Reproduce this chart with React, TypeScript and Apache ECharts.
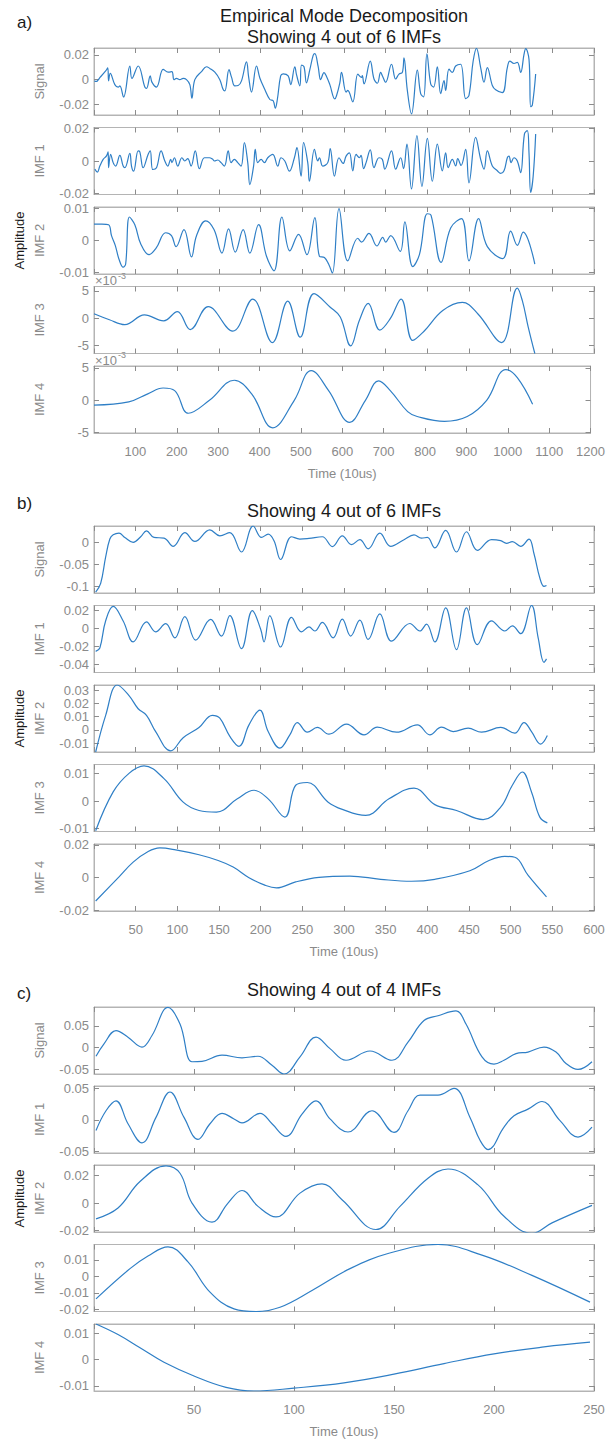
import React, { useEffect, useRef } from "react";
import * as echarts from "echarts";

type Pt = [number, number];

// ---------------- Panel a) ----------------
const aSignal: Pt[] = [
  [1, -0.001], [5, -0.0015], [15, 0.002], [28, 0.007], [33, 0.0095], [35, -0.001], [39, 0.005], [50, -0.004],
  [58, -0.006], [62, -0.005], [71, -0.014], [86, 0.011], [91, 0.001], [106, 0.011], [122, -0.006], [126, -0.007],
  [135, 0.003], [139, -0.002], [150, -0.006], [166, 0.0083], [178, 0.006], [187, 0.0065], [192, 0], [198, 0.001],
  [206, 0], [214, 0.001], [222, 0], [230, -0.004], [235, -0.015], [242, 0], [258, 0.0065], [270, 0.0104],
  [278, 0.009], [290, 0.006], [302, 0], [310, -0.008], [314, -0.009], [324, 0.008], [330, 0.002], [338, -0.005],
  [346, -0.0047], [354, -0.001], [366, 0.0143], [371, 0.0025], [378, -0.01], [390, 0.011], [398, 0.0013],
  [410, -0.008], [422, -0.016], [430, -0.017], [435, -0.023], [440, -0.016], [448, 0.003], [454, 0.0047],
  [466, 0.003], [472, -0.004], [482, 0.0104], [486, 0.004], [494, -0.005], [498, 0.0117], [504, 0.0104],
  [510, -0.0026], [518, 0.008], [526, 0.0195], [530, 0.021], [538, 0.0104], [544, 0], [552, 0.0057],
  [558, 0.0026], [566, -0.004], [578, -0.0155], [582, -0.013], [590, -0.0026], [594, 0.0058], [605, -0.01],
  [609, -0.0087], [621, -0.0179], [633, 0.0045], [639, 0.0024], [642, 0.0018], [644, 0.0032], [648, -0.0034],
  [663, 0.015], [672, 0.0005], [680, -0.0029], [688, 0.0058], [692, 0.0032], [700, -0.0021], [714, 0.0124],
  [724, 0.0005], [732, 0.0045], [740, 0.0058], [744, 0.0176], [752, -0.0087], [762, -0.0276], [776, 0.0076],
  [784, -0.0113], [791, -0.0139], [799, 0.0208], [808, -0.0034], [815, -0.006], [824, 0.0103], [832, -0.0113],
  [840, -0.0008], [844, -0.0087], [852, 0.0084], [860, 0.0058], [868, 0.011], [880, 0.0124], [892, -0.0153],
  [900, -0.0126], [910, 0.015], [918, 0.0252], [928, 0.0097], [936, -0.0021], [944, 0.0097], [956, -0.0047],
  [964, -0.0082], [980, -0.0105], [992, 0.0097], [998, 0.015], [1008, 0.013], [1016, 0.0139], [1024, 0.0058],
  [1032, 0.0203], [1036, 0.025], [1044, 0.0163], [1048, -0.0218], [1052, -0.0205], [1060, 0.0045],
];
const aImf1: Pt[] = [
  [2, -0.005], [8, -0.0068], [14, -0.0031], [22, 0.001], [30, 0.0031], [34, 0.0056], [35, -0.004], [40, 0.0041],
  [46, -0.001], [52, -0.0031], [62, 0.0035], [70, -0.0031], [74, -0.0041], [86, 0.0047], [90, -0.0031],
  [95, -0.0062], [106, 0.0062], [110, 0.0056], [118, -0.0041], [130, 0.0041], [135, 0.0062], [141, -0.0052],
  [150, -0.0041], [161, 0.0062], [170, 0], [177, -0.0031], [184, 0.001], [187, -0.001], [193, 0.002],
  [201, -0.0031], [211, 0.002], [218, 0], [225, 0.0014], [233, -0.0031], [243, 0.0062], [253, -0.0047],
  [265, 0.002], [277, 0.002], [285, 0.001], [289, 0], [297, 0.0006], [305, -0.001], [313, -0.0031], [322, 0.0062],
  [329, -0.001], [337, 0.001], [345, -0.001], [353, -0.0031], [361, 0.0113], [369, -0.001], [374, -0.0144],
  [383, -0.0031], [387, 0.0072], [393, -0.001], [401, 0.001], [409, -0.001], [417, 0.002], [429, 0.0041],
  [441, -0.0031], [449, 0.002], [458, 0], [469, -0.0062], [481, 0.002], [487, 0.0082], [497, -0.0093],
  [503, 0.0113], [513, -0.001], [517, -0.0124], [529, 0.0072], [537, 0], [541, 0.002], [549, -0.0031],
  [561, -0.001], [567, 0.0076], [577, -0.0093], [588, 0.002], [598, -0.0015], [605, 0.003], [613, 0.005],
  [621, -0.006], [629, 0.004], [637, 0.002], [641, 0.0035], [647, -0.0047], [653, -0.001], [663, 0.0068],
  [672, -0.004], [684, 0.002], [692, 0.001], [698, -0.005], [714, 0.0062], [724, -0.005], [736, 0.002],
  [743, -0.0047], [751, 0.0103], [762, -0.0171], [775, 0.0155], [787, -0.0155], [800, 0.0138], [812, -0.0124],
  [824, 0.0103], [836, -0.006], [844, 0.005], [850, -0.004], [860, 0.001], [868, -0.003], [873, 0.0014],
  [881, -0.0027], [892, 0.0072], [900, -0.0134], [916, 0.0144], [928, 0.001], [936, -0.005], [944, 0.0062],
  [956, -0.003], [968, -0.006], [976, -0.0076], [984, -0.006], [992, 0.002], [996, 0.003], [1001, -0.001],
  [1008, 0.002], [1016, 0], [1024, -0.0072], [1033, 0.0165], [1040, 0.0186], [1044, 0.005], [1048, -0.0192],
  [1054, -0.0093], [1060, 0.0165],
];
const aImf2: Pt[] = [
  [0, 0.0051], [19, 0.0051], [35, 0.0049], [42, 0.0015], [51, -0.0015], [60, -0.0058], [70, -0.0083],
  [76, -0.0073], [85, 0.0073], [98, 0.0049], [112, -0.001], [132, -0.0044], [149, -0.0024], [172, 0.0024],
  [186, 0.0015], [197, -0.0019], [216, 0.0034], [234, -0.0051], [246, 0.0015], [268, 0.0061], [288, 0.0034],
  [307, -0.0039], [323, 0.0036], [339, -0.0036], [358, 0.0034], [374, -0.0039], [395, 0.0049], [414, -0.0049],
  [432, -0.0094], [451, 0.0073], [470, -0.0032], [491, 0.0019], [511, -0.0044], [530, 0.0071], [541, -0.0049],
  [553, -0.0053], [563, -0.0073], [572, -0.0101], [588, 0.0099], [609, -0.0063], [633, 0.0007], [642, -0.0005],
  [660, 0.0022], [679, -0.0017], [693, 0.001], [700, -0.0005], [712, 0.0015], [735, -0.0034], [746, 0.0058],
  [765, -0.0081], [781, -0.0044], [800, 0.0083], [809, 0.0078], [833, -0.0068], [856, 0.0039], [882, 0.0068],
  [900, -0.0063], [923, 0.0068], [944, -0.0019], [981, -0.0056], [1000, 0.0029], [1016, -0.0015],
  [1030, 0.0026], [1058, -0.0073],
];
const aImf3: Pt[] = [
  [0, 0.8], [37, -0.3], [74, -1.2], [121, 0.6], [167, -0.5], [200, 1.2], [231, -2.1], [274, 2.1], [333, -2.4],
  [381, 3.5], [428, -4.5], [465, 3.1], [495, -3.5], [528, 4.5], [567, 2.0], [591, 0.2], [616, -5.1], [637, -0.4],
  [658, 2.7], [686, -2.2], [711, -0.1], [737, 3.5], [765, -4.1], [791, -2.5], [837, 1.4], [884, 2.9], [921, 0.8],
  [978, -4.5], [1016, 5.5], [1028, 3.2], [1042, -1.6], [1058, -6.5],
];
const aImf4: Pt[] = [
  [0, -0.75], [84, -0.25], [130, 1.0], [167, 1.9], [195, 1.5], [228, -2.0], [279, 0], [339, 3.1], [381, 1.0],
  [432, -4.25], [484, 0], [525, 4.6], [567, 1.5], [618, -3.4], [656, 0], [688, 3.0], [716, 1.5], [758, -1.75],
  [781, -2.5], [847, -3.25], [902, -2.5], [949, 0], [995, 4.75], [1023, 3.5], [1060, -0.6],
];
const aSignalTicks = [-0.02, 0, 0.02];
const aImf1Ticks = [-0.02, 0, 0.02];
const aImf2Ticks = [-0.01, 0, 0.01];
const aImf3Ticks = [-5, 0, 5];
const aImf4Ticks = [-5, 0, 5];

// ---------------- Panel b) ----------------
const bSignal: Pt[] = [
  [2, -0.113], [8, -0.093], [14, -0.033], [19, 0.0074], [23, 0.017], [30, 0.021], [37, 0.011], [47, 0],
  [56, 0.0126], [63, 0.026], [72, 0.011], [84, 0.0096], [95, -0.009], [109, 0.022], [121, 0.002], [139, 0.028],
  [151, 0.0148], [163, 0.022], [177, -0.022], [191, 0.037], [201, 0.011], [209, 0.0185], [216, 0.0037],
  [224, -0.039], [237, 0.0126], [247, 0.0074], [258, 0.0089], [274, 0.0126], [286, -0.0096], [298, 0.0148],
  [309, -0.0052], [319, 0.006], [329, -0.0148], [343, 0.021], [356, -0.009], [372, 0.006], [384, 0.017],
  [393, 0.0096], [400, 0.011], [409, -0.0126], [422, 0.027], [435, -0.022], [447, 0.024], [460, -0.0185],
  [477, 0.006], [488, 0.0037], [495, -0.0022], [502, 0.0015], [512, -0.009], [522, 0.0074], [528, -0.026],
  [535, -0.081], [540, -0.1], [543, -0.098],
];
const bImf1: Pt[] = [
  [2, -0.0254], [7, -0.0217], [14, 0.0082], [23, 0.024], [35, 0.008], [47, -0.015], [63, 0.007], [74, -0.004],
  [86, 0.005], [97, -0.0105], [109, 0.0127], [122, -0.013], [140, 0.0097], [153, -0.0086], [163, 0.0138],
  [177, -0.0224], [190, 0.0194], [200, -0.001], [204, -0.015], [211, 0.0138], [224, -0.0206], [237, 0.012],
  [249, -0.004], [258, 0.0015], [265, -0.003], [274, 0.0064], [287, -0.0105], [298, 0.0101], [308, -0.0086],
  [319, 0.009], [329, -0.0123], [343, 0.0157], [357, -0.0142], [379, 0.0052], [391, -0.003], [399, 0.0045],
  [409, -0.015], [422, 0.0224], [435, -0.0235], [447, 0.0224], [460, -0.018], [477, 0.0082], [493, -0.003],
  [502, 0.0026], [512, -0.006], [525, 0.025], [533, -0.0105], [540, -0.0374], [543, -0.0336],
];
const bImf2: Pt[] = [
  [2, -0.0168], [14, 0.011], [28, 0.034], [42, 0.026], [53, 0.016], [63, 0.011], [74, -0.0013], [92, -0.016],
  [107, -0.006], [126, 0.0018], [142, 0.011], [151, 0.0088], [163, -0.005], [174, -0.0125], [186, 0.0038],
  [199, 0.015], [209, -0.0013], [223, -0.0138], [235, -0.0038], [244, 0.0055], [256, -0.0018], [268, 0.0018],
  [282, -0.0033], [303, 0.0043], [324, -0.0038], [340, 0.002], [363, -0.0018], [388, 0.0038], [403, -0.0038],
  [417, 0.002], [431, -0.0013], [449, 0.0013], [465, -0.0018], [488, 0.0018], [505, -0.0025], [516, 0.0055],
  [525, -0.0013], [536, -0.0108], [544, -0.0043],
];
const bImf3: Pt[] = [
  [2, -0.0107], [23, 0.0033], [42, 0.01], [60, 0.0127], [84, 0.0081], [107, -0.0004], [126, -0.0034],
  [147, -0.004], [172, 0.0008], [192, 0.0039], [209, 0.0008], [229, -0.0058], [242, 0.0057], [256, 0.0067],
  [281, -0.0004], [298, -0.003], [326, -0.0052], [354, 0.0008], [384, 0.0047], [409, -0.0013], [435, -0.0034],
  [467, -0.0067], [488, -0.0022], [502, 0.0057], [514, 0.0105], [525, 0.0033], [535, -0.0058], [544, -0.0079],
];
const bImf4: Pt[] = [
  [2, -0.0143], [28, -0.0006], [47, 0.0095], [65, 0.016], [79, 0.0182], [98, 0.017], [126, 0.014], [149, 0.0105],
  [167, 0.0065], [186, 0], [205, -0.0046], [219, -0.0063], [242, -0.0026], [270, 0.0002], [307, 0.001],
  [344, -0.001], [381, -0.0022], [409, -0.001], [451, 0.0042], [474, 0.0105], [493, 0.013], [505, 0.0125],
  [521, 0.0014], [543, -0.0117],
];
const bSignalTicks = [-0.1, -0.05, 0];
const bImf1Ticks = [-0.04, -0.02, 0, 0.02];
const bImf2Ticks = [-0.01, 0, 0.01, 0.02, 0.03];
const bImf3Ticks = [-0.01, 0, 0.01];
const bImf4Ticks = [-0.02, 0, 0.02];

// ---------------- Panel c) ----------------
const cSignal: Pt[] = [
  [1, -0.0195], [5, 0.009], [11, 0.039], [17, 0.024], [24, 0.0015], [29, 0.028], [37, 0.092], [43, 0.054],
  [49, -0.032], [54, -0.031], [64, -0.017], [74, -0.023], [82, -0.0195], [89, -0.04], [95, -0.06], [103, -0.021],
  [111, 0.024], [118, -0.002], [126, -0.0286], [138, -0.0075], [149, -0.0286], [157, 0.0128], [165, 0.062],
  [172, 0.073], [181, 0.084], [186, 0.054], [194, -0.021], [200, -0.0376], [205, -0.0286], [211, -0.0135],
  [217, -0.01], [225, 0.0015], [231, -0.01], [236, -0.036], [242, -0.0496], [249, -0.032],
];
const cImf1: Pt[] = [
  [1, -0.0166], [6, 0.0145], [11, 0.03], [17, -0.006], [24, -0.036], [31, 0.004], [38, 0.044], [45, 0.004],
  [52, -0.0306], [58, -0.006], [64, 0.0104], [70, 0.0016], [74, -0.0047], [83, 0.0104], [89, -0.006],
  [96, -0.026], [104, 0.009], [111, 0.03], [118, 0.0016], [127, -0.019], [139, 0.0145], [150, -0.0197],
  [157, 0.0145], [163, 0.039], [172, 0.039], [180, 0.0497], [188, 0.004], [193, -0.032], [197, -0.0466],
  [205, -0.0114], [210, 0.0067], [217, 0.017], [224, 0.029], [233, -0.001], [242, -0.027], [249, -0.0114],
];
const cImf2: Pt[] = [
  [1, -0.0115], [12, -0.0036], [23, 0.0156], [36, 0.027], [43, 0.0216], [49, 0], [59, -0.0139], [67, 0],
  [74, 0.0091], [82, -0.0024], [91, -0.0101], [103, 0.0072], [114, 0.0139], [124, 0.0024], [141, -0.0192],
  [153, -0.0024], [167, 0.018], [177, 0.0247], [192, 0.0132], [205, -0.0096], [219, -0.022], [229, -0.0144],
  [249, -0.0017],
];
const cImf3: Pt[] = [
  [1, -0.0137], [18, 0.0047], [27, 0.0124], [37, 0.018], [47, 0.0088], [58, -0.0096], [70, -0.0198],
  [81, -0.0214], [93, -0.0188], [109, -0.0086], [128, 0.0047], [147, 0.0139], [172, 0.0194], [194, 0.0129],
  [219, 0.0006], [248, -0.0157],
];
const cImf4: Pt[] = [
  [1, 0.0135], [12, 0.0095], [23, 0.0045], [35, -0.001], [50, -0.0062], [66, -0.0105], [80, -0.0119],
  [100, -0.0108], [125, -0.0088], [150, -0.0055], [175, -0.0015], [200, 0.0022], [225, 0.0048], [248, 0.0066],
];
const cSignalTicks = [-0.05, 0, 0.05];
const cImf1Ticks = [-0.05, 0, 0.05];
const cImf2Ticks = [-0.02, 0, 0.02];
const cImf3Ticks = [-0.02, -0.01, 0, 0.01];
const cImf4Ticks = [-0.01, 0, 0.01];

// ---------------- layout / style ----------------
const FONT = '"Liberation Sans", Arial, Helvetica, sans-serif';
const AX = "#b4b4b4";
const TICK = "#8c8c8c";
const TXT = "#8a8a8a";
const LINE = "#2f7fc6";
const GRID_LEFT = 94;
const GRID_W = 500;
const GRID_H = 67;

interface Sub { name: string; data: Pt[]; min: number; max: number; ticks: number[]; exp?: boolean }
interface Panel { tops: number[]; xMax: number; xStep: number; subs: Sub[] }

const panels: Panel[] = [
  {
    tops: [48, 127.5, 207, 286.5, 366], xMax: 1200, xStep: 100,
    subs: [
      { name: "Signal", data: aSignal, min: -0.0285, max: 0.0255, ticks: aSignalTicks },
      { name: "IMF 1", data: aImf1, min: -0.0205, max: 0.0205, ticks: aImf1Ticks },
      { name: "IMF 2", data: aImf2, min: -0.0104, max: 0.0104, ticks: aImf2Ticks },
      { name: "IMF 3", data: aImf3, min: -6.5, max: 5.8, ticks: aImf3Ticks, exp: true },
      { name: "IMF 4", data: aImf4, min: -5.05, max: 5.3, ticks: aImf4Ticks, exp: true },
    ],
  },
  {
    tops: [526, 605.5, 685, 764.5, 844], xMax: 600, xStep: 50,
    subs: [
      { name: "Signal", data: bSignal, min: -0.115, max: 0.037, ticks: bSignalTicks },
      { name: "IMF 1", data: bImf1, min: -0.0486, max: 0.025, ticks: bImf1Ticks },
      { name: "IMF 2", data: bImf2, min: -0.0168, max: 0.034, ticks: bImf2Ticks },
      { name: "IMF 3", data: bImf3, min: -0.011, max: 0.0132, ticks: bImf3Ticks },
      { name: "IMF 4", data: bImf4, min: -0.0204, max: 0.0206, ticks: bImf4Ticks },
    ],
  },
  {
    tops: [1007, 1086, 1165, 1244.5, 1324], xMax: 250, xStep: 50,
    subs: [
      { name: "Signal", data: cSignal, min: -0.06, max: 0.093, ticks: cSignalTicks },
      { name: "IMF 1", data: cImf1, min: -0.052, max: 0.0534, ticks: cImf1Ticks },
      { name: "IMF 2", data: cImf2, min: -0.021, max: 0.0276, ticks: cImf2Ticks },
      { name: "IMF 3", data: cImf3, min: -0.0214, max: 0.0194, ticks: cImf3Ticks },
      { name: "IMF 4", data: cImf4, min: -0.0119, max: 0.0135, ticks: cImf4Ticks },
    ],
  },
];

const headings = [
  { x: 344, y: 16, text: "Empirical Mode Decomposition" },
  { x: 344, y: 37, text: "Showing 4 out of 6 IMFs" },
  { x: 344, y: 511, text: "Showing 4 out of 6 IMFs" },
  { x: 344, y: 990, text: "Showing 4 out of 4 IMFs" },
];
const letters = [
  { y: 22, text: "a)" },
  { y: 503, text: "b)" },
  { y: 993, text: "c)" },
];

function fmt(v: number): string {
  const r = Math.round(v * 10000) / 10000;
  return String(r === 0 ? 0 : r);
}

function buildOption() {
  const grid: any[] = [];
  const xAxis: any[] = [];
  const yAxis: any[] = [];
  const series: any[] = [];
  const graphic: any[] = [];
  const tick = () => ({ show: true, inside: true, length: 5, lineStyle: { color: TICK, width: 1 } });
  const axLine = () => ({ show: true, onZero: false, lineStyle: { color: AX, width: 1 } });

  panels.forEach((p) => {
    p.subs.forEach((s, si) => {
      const gi = grid.length;
      const top = p.tops[si];
      const last = si === p.subs.length - 1;
      grid.push({ left: GRID_LEFT, top, width: GRID_W, height: GRID_H, show: true, borderColor: AX, borderWidth: 1, backgroundColor: "transparent" });
      xAxis.push({
        gridIndex: gi, type: "value", position: "bottom", min: 0, max: p.xMax, interval: p.xStep,
        axisLine: axLine(), axisTick: tick(), splitLine: { show: false },
        axisLabel: { show: last, color: TXT, fontSize: 13, fontFamily: FONT, margin: 12, showMinLabel: false, formatter: (v: number) => String(v) },
        name: last ? "Time (10us)" : "", nameLocation: "middle", nameGap: 34,
        nameTextStyle: { color: TXT, fontSize: 13, fontFamily: FONT },
      });
      xAxis.push({
        gridIndex: gi, type: "value", position: "top", min: 0, max: p.xMax, interval: p.xStep,
        axisLine: axLine(), axisTick: tick(), splitLine: { show: false }, axisLabel: { show: false },
      });
      yAxis.push({
        gridIndex: gi, type: "value", position: "left", min: s.min, max: s.max,
        axisLine: axLine(), splitLine: { show: false },
        axisTick: { ...tick(), customValues: s.ticks },
        axisLabel: { customValues: s.ticks, formatter: (v: number) => fmt(v), color: TXT, fontSize: 13, fontFamily: FONT, margin: 5 },
        name: s.name, nameLocation: "middle", nameGap: 48,
        nameTextStyle: { color: TXT, fontSize: 13, fontFamily: FONT },
      });
      yAxis.push({
        gridIndex: gi, type: "value", position: "right", min: s.min, max: s.max,
        axisLine: axLine(), splitLine: { show: false },
        axisTick: { ...tick(), customValues: s.ticks }, axisLabel: { show: false },
      });
      series.push({
        type: "line", xAxisIndex: 2 * gi, yAxisIndex: 2 * gi, data: s.data, showSymbol: false,
        smooth: 0.4, silent: true, clip: true, lineStyle: { color: LINE, width: 1.2 },
      });
      if (s.exp) {
        graphic.push({ type: "text", x: 95, y: top - 6, style: { text: "×10", fill: TXT, font: `13px ${FONT}`, align: "left", verticalAlign: "middle" } });
        graphic.push({ type: "text", x: 118, y: top - 11, style: { text: "-3", fill: TXT, font: `9px ${FONT}`, align: "left", verticalAlign: "middle" } });
      }
      if (si === 2) {
        graphic.push({
          type: "text", x: 19, y: top + GRID_H / 2, rotation: Math.PI / 2,
          style: { text: "Amplitude", fill: "#1a1a1a", font: `13px ${FONT}`, align: "center", verticalAlign: "middle" },
        });
      }
    });
  });

  headings.forEach((h) => {
    graphic.push({ type: "text", x: h.x, y: h.y, style: { text: h.text, fill: "#1a1a1a", font: `18px ${FONT}`, align: "center", verticalAlign: "middle" } });
  });
  letters.forEach((l) => {
    graphic.push({ type: "text", x: 17, y: l.y, style: { text: l.text, fill: "#1a1a1a", font: `17px ${FONT}`, align: "left", verticalAlign: "middle" } });
  });

  return { animation: false, backgroundColor: "#ffffff", grid, xAxis, yAxis, series, graphic };
}

export default function App() {
  const ref = useRef<HTMLDivElement>(null);
  useEffect(() => {
    document.body.style.margin = "0";
    if (!ref.current) return;
    const chart = echarts.init(ref.current, null, { renderer: "svg" });
    chart.setOption(buildOption() as any);
    return () => chart.dispose();
  }, []);
  return <div ref={ref} style={{ position: "absolute", left: 0, top: 0, width: 608, height: 1446 }} />;
}
